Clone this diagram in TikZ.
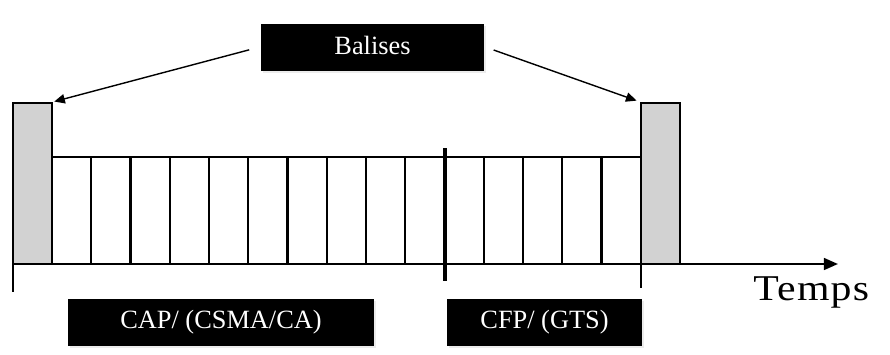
\documentclass[tikz,border=0pt]{standalone}
\usepackage{fontspec}
\setmainfont{Liberation Serif}
\usetikzlibrary{arrows.meta,shadows}

\begin{document}
\begin{tikzpicture}[
        x=0.03cm, y=-0.03cm,
        line width=2pt,
        beacon/.style={
            draw,
            fill=gray!35,
            minimum width=1.17cm, minimum height=4.83cm,
            inner sep=0pt
        },
        blackbox/.style={
            fill=black,
            text=white,
            inner sep=0pt,
            minimum height=1.41cm,
            font=\fontsize{22.5}{27}\selectfont,
            drop shadow={shadow xshift=2pt, shadow yshift=-2pt, opacity=0.15}
        },
        pointer/.style={-{Triangle[length=9pt,width=8pt]}, line width=1.2pt}
    ]
            \useasboundingbox (0,0) rectangle (890,354);

            % slots of the superframe
            \draw (52,157) -- (641,157);
            \foreach \i in {1,...,14} {
                \draw (52+39.25*\i,157) -- (52+39.25*\i,264);
            }

            % beacons
            \node[beacon] (bal1) at (32.5,183.5) {};
            \node[beacon] (bal2) at (660.5,183.5) {};

            % time axis
            \draw[-{Triangle[length=12pt,width=10pt]}] (13,264) -- (838,264) coordinate (tend);
            \draw (13,103) -- (13,292);
            \draw (641,103) -- (641,288);
            \draw[line width=3.6pt] (445,148) -- (445,281);
            \node[anchor=base west, inner sep=0pt, xscale=1.15,
                  font=\fontsize{31}{36}\selectfont\addfontfeature{LetterSpace=3}] (temps) at (752,300) {Temps};

            \node[blackbox, minimum width=6.69cm] (balises) at (372.5,47) {\raisebox{3pt}{Balises}};
            \node[blackbox, minimum width=9.18cm] (cap) at (221,322.5) {CAP/ (CSMA/CA)};
            \node[blackbox, minimum width=5.85cm] (cfp) at (544.5,322.5) {CFP/ (GTS)};

            \draw[pointer, shorten <=0.33cm, shorten >=1pt] (balises.west) -- (bal1.north east);
            \draw[pointer, shorten <=0.27cm, shorten >=3pt] (balises.east) -- (bal2.north west);

\end{tikzpicture}
\end{document}
